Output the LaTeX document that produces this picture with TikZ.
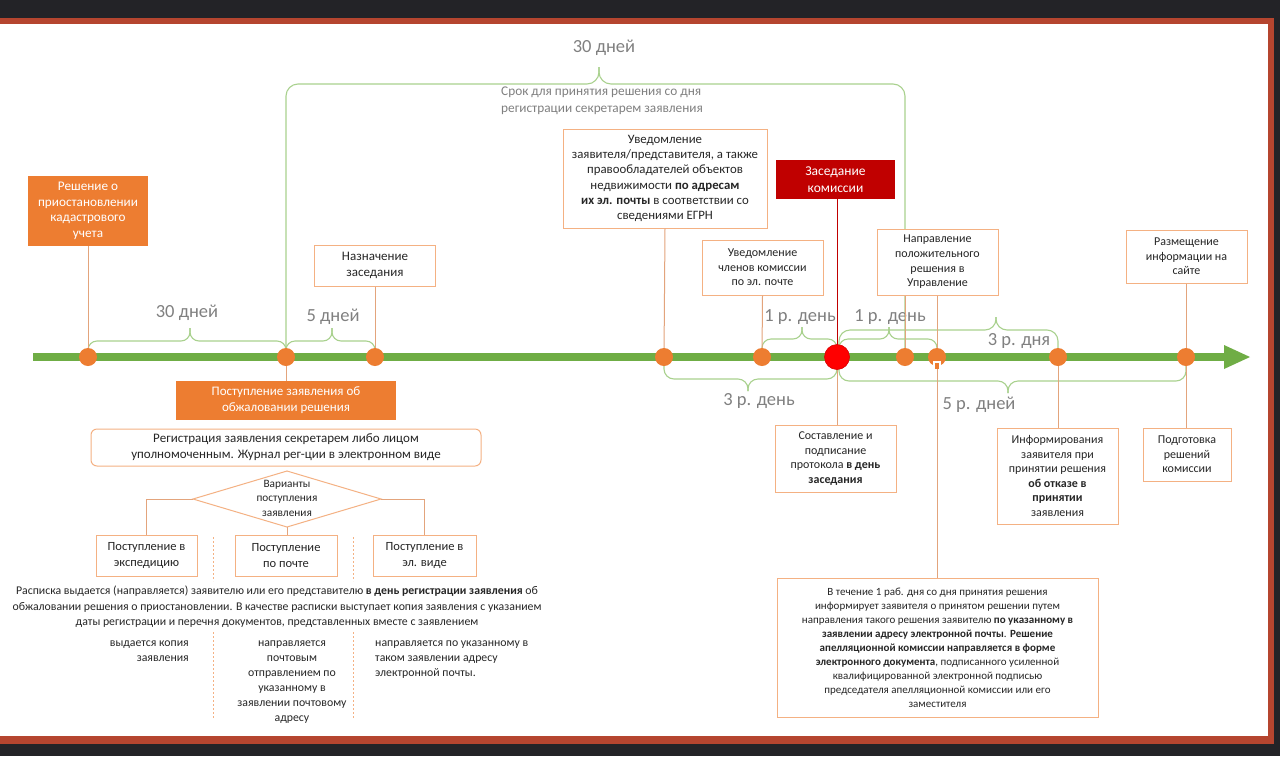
\documentclass[tikz,border=0pt]{standalone}
\usepackage{fontspec}
\setmainfont{Carlito}
\usetikzlibrary{calc}
\definecolor{darkbg}{HTML}{232327}
\definecolor{framec}{HTML}{B5452F}
\definecolor{orangeF}{HTML}{ED7D31}
\definecolor{boxc}{HTML}{F4B183}
\definecolor{linkc}{HTML}{E3A47C}
\definecolor{greenT}{HTML}{6FAD45}
\definecolor{braceC}{HTML}{A9D18E}
\definecolor{redbox}{HTML}{C00000}
\definecolor{redc}{HTML}{FF0000}
\definecolor{grayT}{HTML}{808080}
\definecolor{txt}{HTML}{262626}
\newcommand\bxf{\fontsize{12}{14.6}\selectfont}
\newcommand\lblf{\fontsize{18.5}{22}\selectfont}
\newcommand\obf{\fontsize{13.2}{15.5}\selectfont}
\tikzset{
  box/.style={draw=boxc, line width=1, fill=white, align=center, inner sep=0, font=\bxf, text=txt},
  obox/.style={fill=orangeF, align=center, inner sep=0, font=\obf, text=white},
  dot/.style={circle, fill=orangeF, minimum size=18, inner sep=0},
  link/.style={draw=linkc, line width=1},
  brace/.style={draw=braceC, line width=1.1},
  lbl/.style={text=grayT, font=\lblf, inner sep=0},
  plain/.style={font=\bxf, text=txt, inner sep=0},
  divider/.style={draw=boxc, line width=1, dash pattern=on 2pt off 2pt},
}
\begin{document}
\begin{tikzpicture}[x=1pt,y=-1pt]
\useasboundingbox (0,0) rectangle (1280,756);
% frame
\fill[darkbg] (0,0) rectangle (1280,756);
\fill[framec] (0,18) rectangle (1274,744);
\fill[white] (0,24) rectangle (1268,736);

% timeline
\coordinate (tlS) at (33,357);
\coordinate (tlE) at (1226,357);
\draw[greenT, line width=8] (tlS) -- (tlE);
\fill[greenT] (1224,345) -- (1250,357) -- (1224,369) -- cycle;

% dot positions
\coordinate (p1) at (88,357);
\coordinate (p2) at (286,357);
\coordinate (p3) at (375,357);
\coordinate (p4) at (664,357);
\coordinate (p5) at (762,357);
\coordinate (pr) at (837,357);
\coordinate (p6) at (905,357);
\coordinate (p7) at (937,357);
\coordinate (p8) at (1058,357);
\coordinate (p9) at (1186,357);

% top brace 30 days
\draw[brace, rounded corners=12] (p2) -- (286,84) -- (599,84) -- (599,67);
\draw[brace, rounded corners=12] (599,67) -- (599,84) -- (905,84) -- (p6);
\node[lbl] (l30top) at (604,48) {30 дней};
\node[text=grayT, font=\fontsize{13.3}{17.5}\selectfont, align=left, anchor=west, inner sep=0] (sub) at (501,101) {Срок для принятия решения со дня\\регистрации секретарем заявления};

% small braces above line
\draw[brace, rounded corners=9] (88,350) -- (88,341) -- (190,341) -- (190,328);
\draw[brace, rounded corners=9] (190,328) -- (190,341) -- (286,341) -- (286,350);
\node[lbl] (l30) at (187,313) {30 дней};
\draw[brace, rounded corners=9] (286,350) -- (286,341) -- (332,341) -- (332,328);
\draw[brace, rounded corners=9] (332,328) -- (332,341) -- (375,341) -- (375,350);
\node[lbl] (l5) at (333,317) {5 дней};

\draw[brace, rounded corners=9] (762,350) -- (762,339) -- (802,339) -- (802,327);
\draw[brace, rounded corners=9] (802,327) -- (802,339) -- (837,339) -- (837,347);
\node[lbl] (l1a) at (800,317) {1 р. день};
\draw[brace, rounded corners=9] (839,347) -- (839,339) -- (889,339) -- (889,327);
\draw[brace, rounded corners=9] (889,327) -- (889,339) -- (937,339) -- (937,349);
\node[lbl] (l1b) at (890,317) {1 р. день};
\draw[brace, rounded corners=11] (839,345) -- (839,330) -- (996,330) -- (996,317);
\draw[brace, rounded corners=11] (996,317) -- (996,330) -- (1058,330) -- (1058,349);
\node[lbl] (l3a) at (1019,341) {3 р. дня};

% braces below line
\draw[brace, rounded corners=10] (664,365) -- (664,379) -- (748,379) -- (748,391);
\draw[brace, rounded corners=10] (748,391) -- (748,379) -- (837,379) -- (837,369);
\node[lbl] (l3b) at (759,401) {3 р. день};
\draw[brace, rounded corners=10] (839,368) -- (839,381) -- (1008,381) -- (1008,393);
\draw[brace, rounded corners=10] (1008,393) -- (1008,381) -- (1186,381) -- (1186,365);
\node[lbl] (l5b) at (979,405) {5 р. дней};

% boxes top-left
\node[obox, minimum width=120, minimum height=70] (n1) at (88,211) {Решение о\\приостановлении\\кадастрового\\учета};
\node[box, minimum width=121, minimum height=41, font=\fontsize{13}{15.5}\selectfont] (nNazn) at (375,265.5) {Назначение\\заседания};
\node[obox, minimum width=220, minimum height=39, font=\fontsize{13}{16}\selectfont] (nPost) at (286,400.5) {Поступление заявления об\\обжаловании решения};

% connectors to dots (left)
\draw[link] (n1.south) -- (p1);
\draw[link] (nNazn.south) -- (p3);
\draw[link] (p2) -- (nPost.north);

% registration
\node[box, rounded corners=6, minimum width=390, minimum height=37, font=\fontsize{13}{16}\selectfont] (nReg) at (286,447.5) {Регистрация заявления секретарем либо лицом\\уполномоченным. Журнал рег-ции в электронном виде};

% diamond
\coordinate (dT) at (287,471);
\coordinate (dR) at (381,499);
\coordinate (dB) at (287,527);
\coordinate (dL) at (193,499);
\draw[draw=boxc, line width=1, fill=white] (dT) -- (dR) -- (dB) -- (dL) -- cycle;
\node[plain, align=center, font=\fontsize{11.3}{14.5}\selectfont] (nVar) at (287,498) {Варианты\\поступления\\заявления};

\node[box, minimum width=101, minimum height=41, font=\fontsize{12.5}{16}\selectfont] (e1) at (146.5,555.5) {Поступление в\\экспедицию};
\node[box, minimum width=102, minimum height=41, font=\fontsize{12.5}{16}\selectfont] (e2) at (286,555.5) {Поступление\\по почте};
\node[box, minimum width=103, minimum height=41, font=\fontsize{12.5}{16}\selectfont] (e3) at (424.5,555.5) {Поступление в\\эл. виде};
\draw[link] (dL) -- (e1.north |- dL) -- (e1.north);
\draw[link] (dR) -- (e3.north |- dR) -- (e3.north);
\draw[link] (dB) -- (dB |- e2.north);

\coordinate (dv1a) at (213,537);
\coordinate (dv1b) at (213,581);
\coordinate (dv2a) at (353,537);
\coordinate (dv2b) at (353,581);
\coordinate (dv1c) at (213,632);
\coordinate (dv1d) at (213,719);
\coordinate (dv2c) at (353,632);
\coordinate (dv2d) at (353,719);
\draw[divider] (dv1a) -- (dv1b);
\draw[divider] (dv2a) -- (dv2b);
\draw[divider] (dv1c) -- (dv1d);
\draw[divider] (dv2c) -- (dv2d);

\node[plain, align=center, font=\fontsize{11.8}{15.5}\selectfont] (nRasp) at (277,607) {Расписка выдается (направляется) заявителю или его представителю \textbf{в день регистрации заявления} об\\обжаловании решения о приостановлении. В качестве расписки выступает копия заявления с указанием\\даты регистрации и перечня документов, представленных вместе с заявлением};

\node[plain, align=right, anchor=north east, font=\fontsize{11.8}{15}\selectfont] (t1) at (189,641) {выдается копия\\заявления};
\node[plain, align=center, anchor=north, font=\fontsize{11.8}{15}\selectfont] (t2) at (292,641) {направляется\\почтовым\\отправлением по\\указанному в\\заявлении почтовому\\адресу};
\node[plain, align=left, anchor=north west, font=\fontsize{11.8}{15}\selectfont] (t3) at (375,641) {направляется по указанному в\\таком заявлении адресу\\электронной почты.};

% right top boxes
\draw[link] (p6) -- (905,290);
\node[box, minimum width=204, minimum height=99, font=\fontsize{12.8}{15.3}\selectfont] (nUv) at (665,178.5) {Уведомление\\заявителя/представителя, а также\\правообладателей объектов\\недвижимости \textbf{по адресам}\\\textbf{их эл. почты} в соответствии со\\сведениями ЕГРН};
\node[fill=redbox, text=white, align=center, inner sep=0, minimum width=119, minimum height=39, font=\fontsize{13.5}{16.5}\selectfont] (nZas) at (835.5,179.5) {Заседание\\комиссии};
\node[box, minimum width=121, minimum height=55] (nUvCh) at (762.5,267.5) {Уведомление\\членов комиссии\\по эл. почте};
\node[box, minimum width=121, minimum height=66] (nNapr) at (937.5,262) {Направление\\положительного\\решения в\\Управление};
\node[box, minimum width=121, minimum height=53] (nRazm) at (1186.5,256.5) {Размещение\\информации на\\сайте};

% bottom right boxes
\node[box, minimum width=121, minimum height=67] (nSost) at (835.5,458.5) {Составление и\\подписание\\протокола \textbf{в день}\\\textbf{заседания}};
\node[box, minimum width=121, minimum height=96] (nInf) at (1057.5,476) {Информирования\\заявителя при\\принятии решения\\\textbf{об отказе в}\\\textbf{принятии}\\заявления};
\node[box, minimum width=88, minimum height=53] (nPodg) at (1187,454.5) {Подготовка\\решений\\комиссии};
\node[box, minimum width=321, minimum height=139, font=\fontsize{11}{14}\selectfont] (nBig) at (937.5,647.5) {В течение 1 раб. дня со дня принятия решения\\информирует заявителя о принятом решении путем\\направления такого решения заявителю \textbf{по указанному в}\\\textbf{заявлении адресу электронной почты}. \textbf{Решение}\\\textbf{апелляционной комиссии направляется в форме}\\\textbf{электронного документа}, подписанного усиленной\\квалифицированной электронной подписью\\председателя апелляционной комиссии или его\\заместителя};

% connectors right
\draw[link] (nUv.south) -- (p4);
\draw[link] (nUvCh.south) -- (p5);
\draw[draw=redbox, line width=1] (nZas.south -| pr) -- (pr);
\draw[link] (pr) -- (pr |- nSost.north);
\draw[link] (nNapr.south -| p7) -- (p7);
\draw[link] (p7) -- (p7 |- nBig.north);
\draw[link] (p8) -- (p8 |- nInf.north);
\draw[link] (nRazm.south -| p9) -- (p9);
\draw[link] (p9) -- (p9 |- nPodg.north);

% dots
\node[dot] (c1) at (p1) {};
\node[dot] (c2) at (p2) {};
\node[dot] (c3) at (p3) {};
\node[dot] (c4) at (p4) {};
\node[dot] (c5) at (p5) {};
\node[dot] (c6) at (p6) {};
\node[dot] (c7) at (p7) {};
\node[dot] (c8) at (p8) {};
\node[dot] (c9) at (p9) {};
\node[circle, fill=redc, draw=red!85!black, line width=0.6, minimum size=25, inner sep=0] (cr) at (pr) {};
\fill[white] (932.5,361) rectangle (940.5,369);
\fill[orangeF] (934.5,363) rectangle (938.5,369);
\end{tikzpicture}
\end{document}
